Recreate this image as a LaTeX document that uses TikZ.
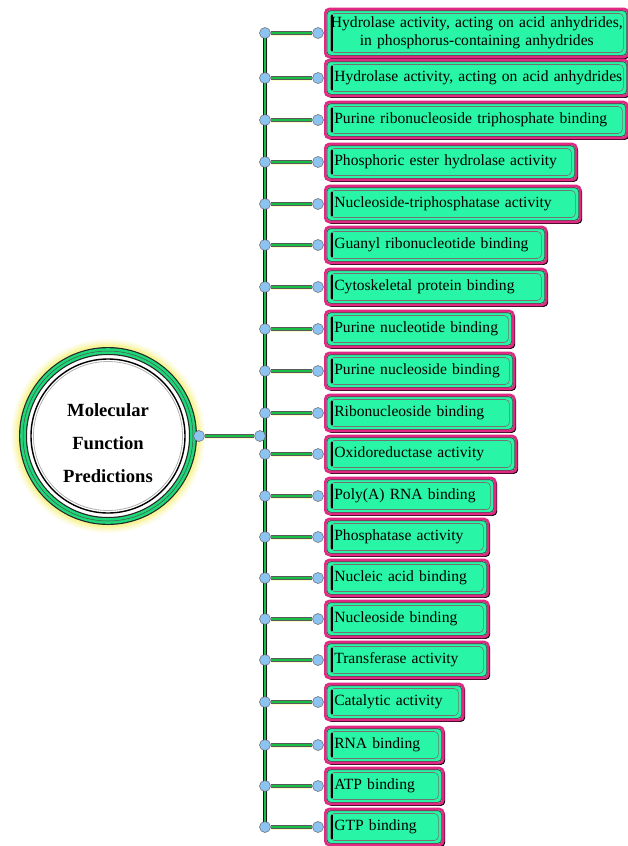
\documentclass[tikz,border=0pt]{standalone}
\usepackage{fontspec}
\setmainfont{Liberation Serif}
\usetikzlibrary{shadows,backgrounds}
\definecolor{aqua}{RGB}{40,245,165}
\definecolor{mag}{RGB}{225,40,130}
\definecolor{lgreen}{RGB}{25,190,70}
\definecolor{ringgreen}{RGB}{30,215,120}
\definecolor{dotblue}{RGB}{140,195,240}
\definecolor{glow}{RGB}{252,250,200}
\definecolor{halo}{RGB}{245,240,120}
\begin{document}
\begin{tikzpicture}[x=1pt,y=-1pt,
 boxstyle/.style={draw=mag, line width=2.6pt, fill=aqua, rounded corners=4pt, anchor=west,
   minimum height=36pt, inner xsep=9pt, inner ysep=0pt,
   font=\fontsize{15.6}{18}\selectfont, align=left,
   drop shadow={shadow xshift=1.8pt, shadow yshift=-1.8pt, fill=black, opacity=1},
   path picture={
     \draw[black!70, line width=0.8pt]
       ([shift={(1.6pt,-1.6pt)}]path picture bounding box.north west) rectangle
       ([shift={(-1.6pt,1.6pt)}]path picture bounding box.south east);
     \draw[black!55, line width=0.6pt]
       ([shift={(5pt,-4.5pt)}]path picture bounding box.north west) rectangle
       ([shift={(-5pt,4.5pt)}]path picture bounding box.south east);
     \draw[black, line width=1.6pt]
       ([shift={(6.5pt,-6pt)}]path picture bounding box.north west) --
       ([shift={(6.5pt,6pt)}]path picture bounding box.south west);}},
 dot/.style={circle, fill=dotblue, draw=black!60, line width=0.5pt, minimum size=11pt, inner sep=0pt},
 conn/.style={draw=lgreen, line width=2.2pt,
   preaction={draw=glow, line width=5pt},
   preaction={draw=black!65, line width=3.4pt}},
 bus/.style={draw=black!90, line width=3.2pt, preaction={draw=glow, line width=5pt}}
]
\useasboundingbox (0,0) rectangle (628,846);

% first (two-line) box
\node[boxstyle, align=center, minimum height=48pt, inner xsep=3.5pt, text width=296pt] (b1) at (324,33)
  {Hydrolase activity, acting on acid anhydrides,\\in phosphorus-containing anhydrides};
\node[dot] (L1) at (265,33) {};
\node[dot] (R1) at (318,33) {};
\draw[conn] (L1.east) -- (R1.west);

\foreach \n/\y/\r/\t in {
 2/78/627/{Hydrolase activity, acting on acid anhydrides},
 3/120/626/{Purine ribonucleoside triphosphate binding},
 4/162/575/{Phosphoric ester hydrolase activity},
 5/204/579/{Nucleoside-triphosphatase activity},
 6/245/545/{Guanyl ribonucleotide binding},
 7/287/545/{Cytoskeletal protein binding},
 8/329/512/{Purine nucleotide binding},
 9/371/513/{Purine nucleoside binding},
 10/413/513/{Ribonucleoside binding},
 11/454/515/{Oxidoreductase activity},
 12/496/494/{Poly(A) RNA binding},
 13/537/487/{Phosphatase activity},
 14/578/487/{Nucleic acid binding},
 15/619/487/{Nucleoside binding},
 16/660/487/{Transferase activity},
 17/702/462/{Catalytic activity},
 18/745/442/{RNA binding},
 19/786/442/{ATP binding},
 20/827/442/{GTP binding}}{
  \pgfmathsetmacro\tw{\r-324-18}
  \node[boxstyle, text width=\tw pt] (b\n) at (324,\y) {\mbox{\t}};
  \node[dot] (L\n) at (265,\y) {};
  \node[dot] (R\n) at (318,\y) {};
  \draw[conn] (L\n.east) -- (R\n.west);
}

\begin{scope}[on background layer]
  \draw[bus] (L1.center) -- (L20.center);
  \draw[draw=lgreen, line width=1.1pt] (L1.center) -- (L20.center);
\end{scope}

% central circle with soft halo
\foreach \rr/\op in {97/0.15, 95/0.2, 93/0.3, 91.5/0.45}{
  \fill[halo, opacity=\op] (108,436) circle (\rr pt);
}
\node[circle, minimum size=170pt, fill=white, inner sep=0pt] (c) at (108,436) {};
\draw[black!85, line width=8pt] (c.center) circle (85pt);
\draw[ringgreen, line width=5.6pt] (c.center) circle (85pt);
\draw[black!70, line width=0.5pt] (c.center) circle (85pt);
\draw[black, line width=1.4pt] (c.center) circle (77pt);
\draw[black!30, line width=0.8pt] (c.center) circle (74.5pt);
\node[align=center, font=\bfseries\fontsize{18.6}{33}\selectfont] (ct) at (108,443)
  {Molecular\\Function\\Predictions};
\node[dot] (cd) at (199,436) {};
\node[dot] (J) at (260,436) {};
\draw[conn] (cd.east) -- (J.west);
\end{tikzpicture}
\end{document}
